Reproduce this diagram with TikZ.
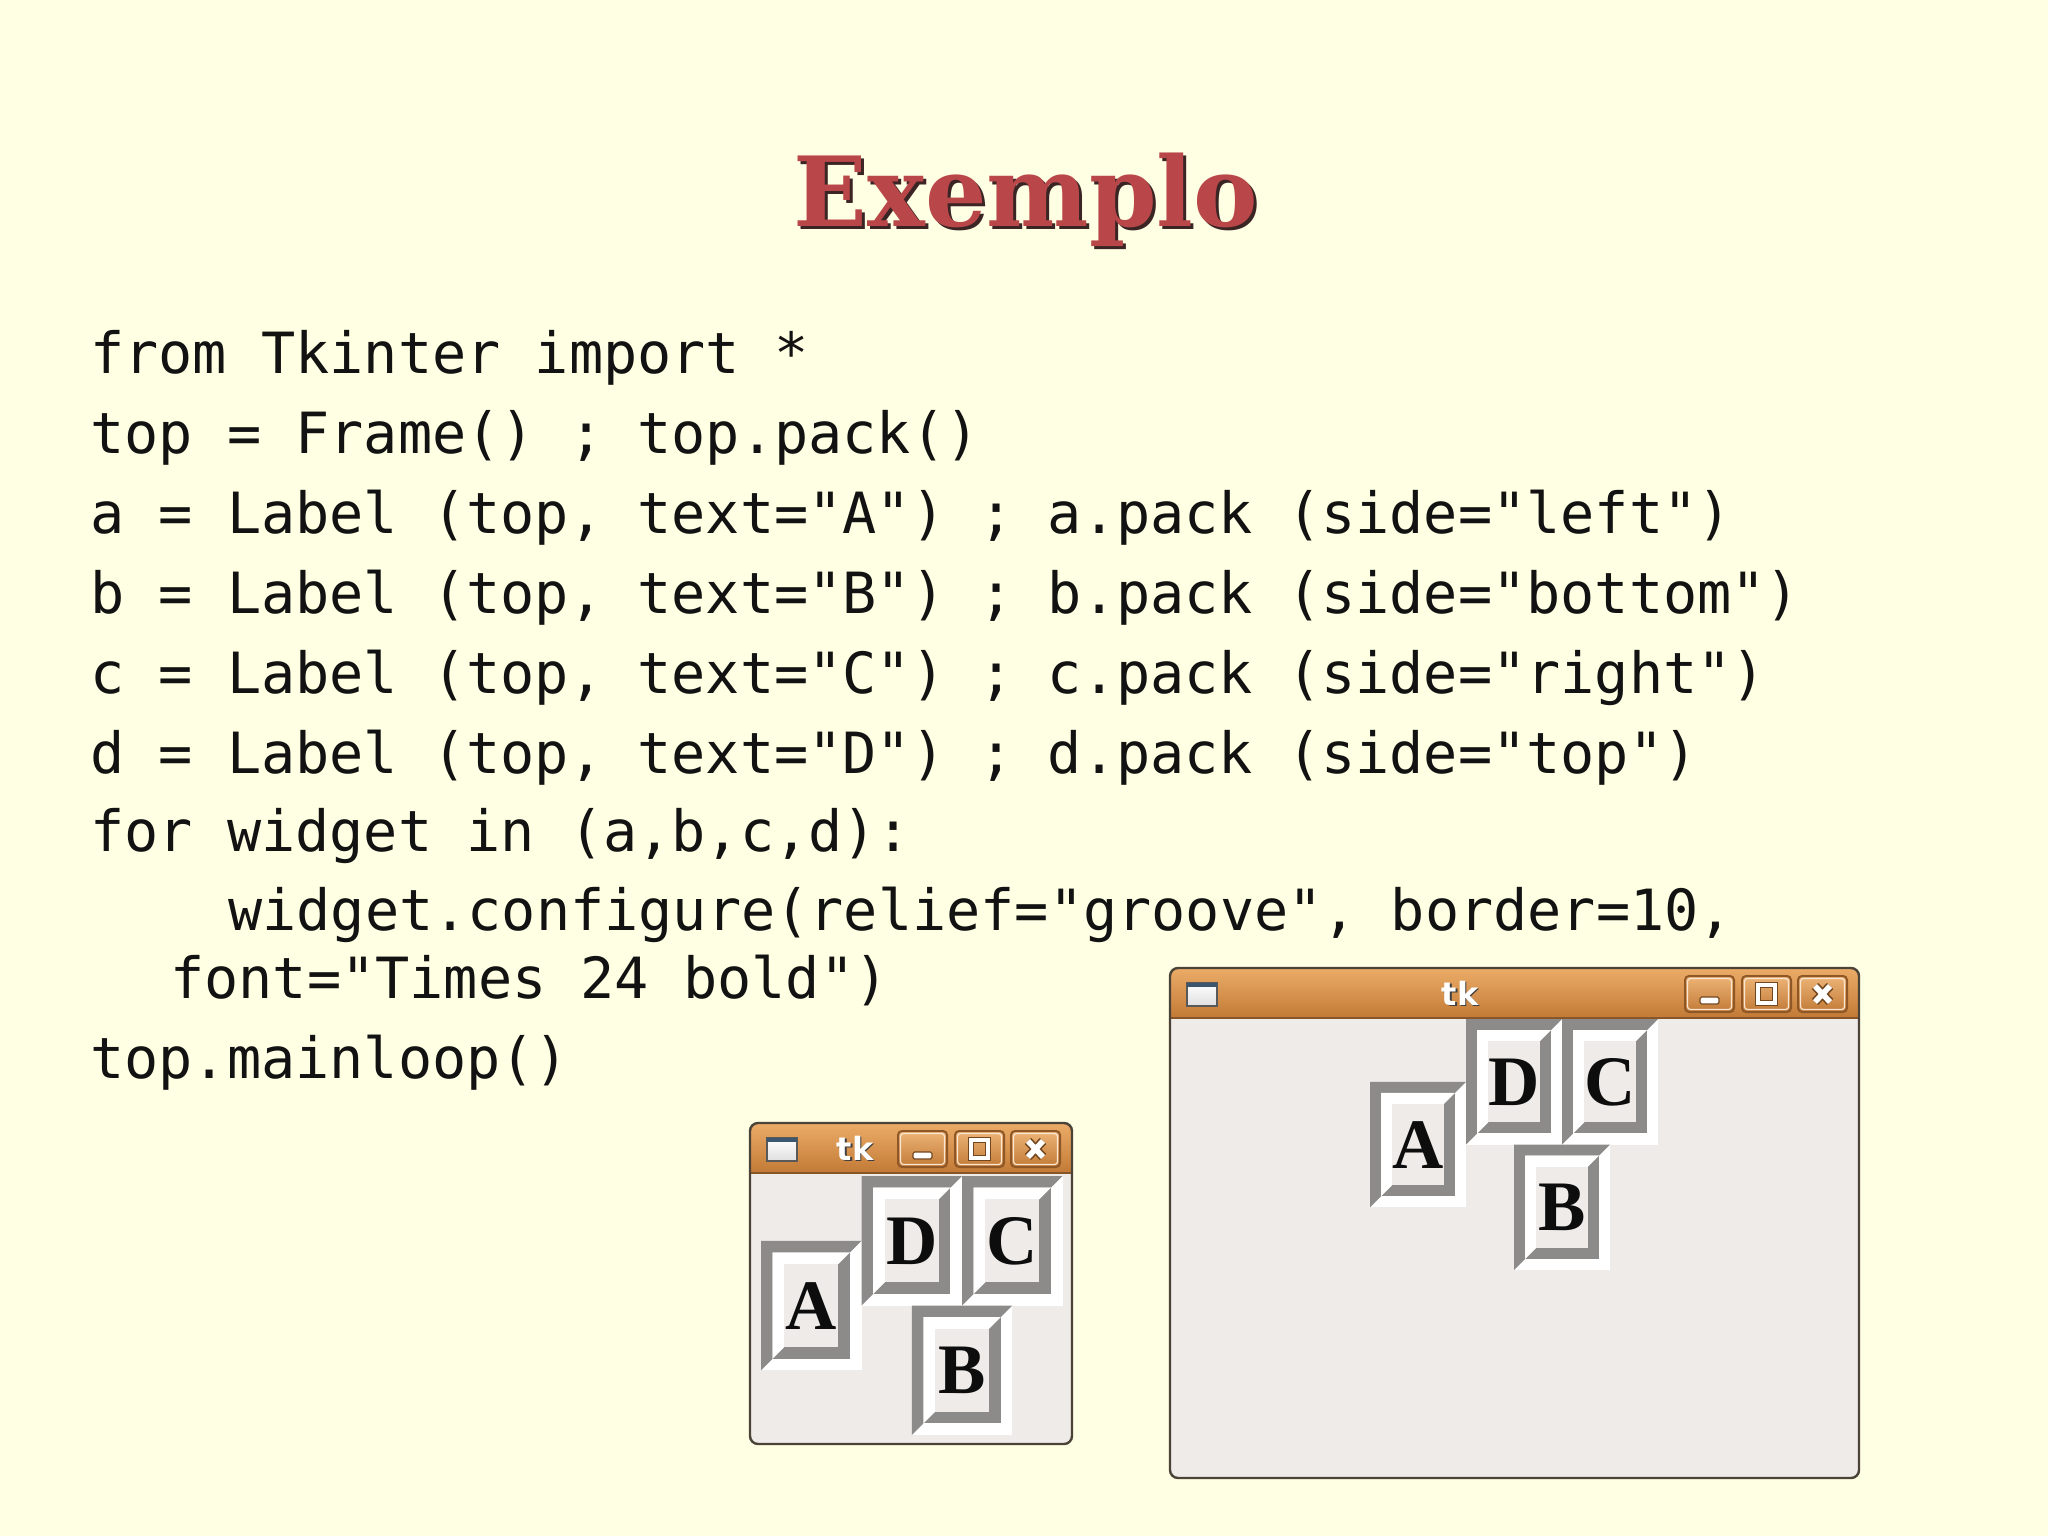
\documentclass[tikz,border=0pt]{standalone}
\usepackage{fontspec}
\setmonofont{DejaVu Sans Mono}
\newfontfamily\titlefont{DejaVu Serif}
\newfontfamily\tkfont{DejaVu Sans}
\newfontfamily\timesfont{Liberation Serif}
\usetikzlibrary{calc}
\definecolor{slidebg}{HTML}{FFFFE3}
\definecolor{titlered}{HTML}{B94749}
\definecolor{titleshadow}{HTML}{3A2424}
\definecolor{winbg}{HTML}{EFEBE9}
\definecolor{grv}{HTML}{8D8B8A}
\definecolor{winedge}{HTML}{4B4338}
\definecolor{bartop}{HTML}{EBAC68}
\definecolor{barbot}{HTML}{C27A36}
\definecolor{btnedge}{HTML}{8F5726}
\definecolor{iconbar}{HTML}{3D5670}
\newcommand\tkLabel[7]{%
 \pgfmathsetmacro\tkLax{#1+#5}\pgfmathsetmacro\tkLbx{#1+2*#5}%
 \pgfmathsetmacro\tkLcx{#3-#5}\pgfmathsetmacro\tkLdx{#3-2*#5}%
 \pgfmathsetmacro\tkLay{#2+#5}\pgfmathsetmacro\tkLby{#2+2*#5}%
 \pgfmathsetmacro\tkLcy{#4-#5}\pgfmathsetmacro\tkLdy{#4-2*#5}%
 \fill[white] (#1,#2) rectangle (#3,#4);
 \fill[grv] (#1,#2) -- (#3,#2) -- (\tkLcx,\tkLay) -- (\tkLax,\tkLay) -- (\tkLax,\tkLcy) -- (#1,#4) -- cycle;
 \fill[grv] (\tkLax,\tkLay) rectangle (\tkLcx,\tkLcy);
 \fill[white] (\tkLax,\tkLay) -- (\tkLcx,\tkLay) -- (\tkLdx,\tkLby) -- (\tkLbx,\tkLby) -- (\tkLbx,\tkLdy) -- (\tkLax,\tkLcy) -- cycle;
 \fill[winbg] (\tkLbx,\tkLby) rectangle (\tkLdx,\tkLdy);
 \node[lbltxt] (#6) at ({(#1+#3)/2},{(#2+#4)/2+23.5}) {#7};
}
\newcommand\tkButton[5]{% x0 y0 x1 y1 kind
 \shade[top color=bartop!90!white, bottom color=barbot, draw=btnedge, line width=1pt, rounded corners=2pt] (#1,#2) rectangle (#3,#4);
 \draw[white!70!bartop, line width=0.6pt, rounded corners=1.5pt] ($(#1,#2)+(2.5,2.5)$) rectangle ($(#3,#4)+(-2.5,-2.5)$);
}
\newcommand\tkWin[6]{% x0 y0 x1 y1 name tkx
 \begin{scope}
  \clip[rounded corners=4pt] (#1,#2) rectangle (#3,#4);
  \fill[winbg] (#1,#2) rectangle (#3,#4);
  \shade[top color=bartop, bottom color=barbot] (#1,#2) rectangle (#3,#2+50);
  \draw[barbot!70!black, line width=0.8pt] (#1,#2+50) -- (#3,#2+50);
 \end{scope}
 \draw[winedge, line width=1.2pt, rounded corners=4pt] (#1,#2) rectangle (#3,#4);
 % window icon
 \shade[top color=white, bottom color=gray!25, draw=gray!70!black, line width=0.6pt] (#1+17,#2+15) rectangle (#1+47,#2+38);
 \fill[iconbar] (#1+17,#2+15) rectangle (#1+47,#2+19);
 % title text
 \node[tktxt, text=black!75, anchor=center] at (#6+1.5,#2+26.5) {tk};
 \node[tktxt, anchor=center] (#5) at (#6,#2+25) {tk};
 % buttons
 \tkButton{#3-174}{#2+8}{#3-125}{#2+44}{min}
 \tkButton{#3-117}{#2+8}{#3-68}{#2+44}{max}
 \tkButton{#3-61}{#2+8}{#3-12}{#2+44}{close}
 % minimize glyph
 \filldraw[fill=white, draw=btnedge!80!black, line width=0.6pt, rounded corners=0.8pt] (#3-159,#2+29) rectangle (#3-140,#2+36);
 % maximize glyph
 \draw[btnedge!80!black, line width=3.2pt] (#3-101,#2+17) rectangle (#3-84,#2+35);
 \draw[white, line width=1.6pt] (#3-101,#2+17) rectangle (#3-84,#2+35);
 % close glyph
 \draw[btnedge!80!black, line width=4.4pt] (#3-44,#2+18) -- (#3-29,#2+34) (#3-44,#2+34) -- (#3-29,#2+18);
 \draw[white, line width=2.8pt] (#3-44,#2+18) -- (#3-29,#2+34) (#3-44,#2+34) -- (#3-29,#2+18);
}
\tikzset{
 codeline/.style={anchor=base west, inner sep=0pt, font=\ttfamily\fontsize{28.4pt}{40pt}\selectfont, text=black!93},
 lbltxt/.style={anchor=base, inner sep=0pt, font=\timesfont\bfseries\fontsize{35.5pt}{36pt}\selectfont, text=black!95},
 tktxt/.style={inner sep=0pt, font=\tkfont\bfseries\fontsize{16pt}{17pt}\selectfont, text=white},
 titletxt/.style={anchor=base, inner sep=0pt, font=\titlefont\bfseries\fontsize{48.4pt}{52pt}\selectfont}
}
\begin{document}
\begin{tikzpicture}[x=0.5pt, y=-0.5pt]
\fill[slidebg] (0,0) rectangle (2048,1536);
\useasboundingbox (0,0) rectangle (2048,1536);
% title
\node[titletxt, text=titleshadow] (titleshadow) at (1029,229) {Exemplo};
\node[titletxt, text=titlered] (title) at (1026,226) {Exemplo};
% code
\node[codeline] (l1) at (90,373) {from Tkinter import *};
\node[codeline] (l2) at (90,453) {top = Frame() ; top.pack()};
\node[codeline] (l3) at (90,533) {a = Label (top, text="A") ; a.pack (side="left")};
\node[codeline] (l4) at (90,613) {b = Label (top, text="B") ; b.pack (side="bottom")};
\node[codeline] (l5) at (90,693) {c = Label (top, text="C") ; c.pack (side="right")};
\node[codeline] (l6) at (90,773) {d = Label (top, text="D") ; d.pack (side="top")};
\node[codeline] (l7) at (90,851) {for widget in (a,b,c,d):};
\node[codeline] (l8) at (228,930) {widget.configure(relief="groove", border=10,};
\node[codeline] (l9) at (170,998) {font="Times 24 bold")};
\node[codeline] (l10) at (90,1078) {top.mainloop()};
% small window
\tkWin{750}{1123}{1072}{1444}{tksmall}{855}
\tkLabel{761}{1240.75}{861.5}{1370.25}{11.7}{sA}{A}
\tkLabel{861.5}{1176}{962}{1305.5}{11.7}{sD}{D}
\tkLabel{962}{1176}{1062.5}{1305.5}{11.7}{sC}{C}
\tkLabel{911.75}{1305.5}{1012.25}{1435}{11.7}{sB}{B}
% large window
\tkWin{1170}{968}{1859}{1478}{tklarge}{1460}
\tkLabel{1370}{1081.75}{1466}{1207.25}{11.2}{bA}{A}
\tkLabel{1466}{1019}{1562}{1144.5}{11.2}{bD}{D}
\tkLabel{1562}{1019}{1658}{1144.5}{11.2}{bC}{C}
\tkLabel{1514}{1144.5}{1610}{1270}{11.2}{bB}{B}
\end{tikzpicture}
\end{document}
